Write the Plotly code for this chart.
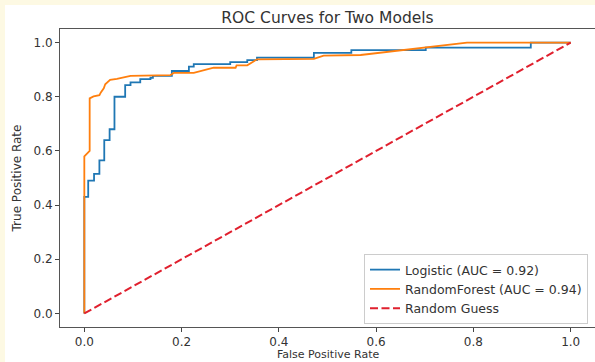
import plotly.graph_objects as go

# ---- data ----
logistic_fpr = [0.0, 0.0, 0.008, 0.020, 0.031, 0.041, 0.052, 0.062, 0.084, 0.095, 0.115,
                0.136, 0.141, 0.180, 0.215, 0.225, 0.300, 0.335, 0.355, 0.472, 0.549,
                0.702, 0.918, 1.0]
logistic_tpr = [0.0, 0.43, 0.49, 0.515, 0.565, 0.64, 0.68, 0.80, 0.843, 0.853, 0.865,
                0.870, 0.877, 0.895, 0.911, 0.920, 0.928, 0.935, 0.944, 0.962, 0.972,
                0.981, 1.0, 1.0]

rf_fpr = [0.0, 0.0, 0.011, 0.011, 0.019, 0.031, 0.034, 0.040, 0.043, 0.053, 0.067, 0.095,
          0.177, 0.184, 0.225, 0.266, 0.311, 0.313, 0.335, 0.355, 0.472, 0.492, 0.568,
          0.787, 1.0]
rf_tpr = [0.0, 0.58, 0.60, 0.794, 0.801, 0.806, 0.816, 0.831, 0.846, 0.862, 0.866, 0.877,
          0.880, 0.888, 0.888, 0.907, 0.907, 0.916, 0.916, 0.938, 0.940, 0.952, 0.954,
          1.0, 1.0]

guess_x = [0.0, 1.0]
guess_y = [0.0, 1.0]

names = ["Logistic (AUC = 0.92)", "RandomForest (AUC = 0.94)", "Random Guess"]
tick_vals = [0.0, 0.2, 0.4, 0.6, 0.8, 1.0]
tick_text = ["0.0", "0.2", "0.4", "0.6", "0.8", "1.0"]

# ---- layout geometry ----
W, H = 595, 362
ML, MR, MT, MB = 60, 0, 29, 35
PW, PH = W - ML - MR, H - MT - MB
FONT = "DejaVu Sans"

fig = go.Figure()
fig.add_trace(go.Scatter(x=logistic_fpr, y=logistic_tpr, mode="lines", name=names[0],
                         line=dict(color="#1f77b4", width=1.8, shape="hv")))
fig.add_trace(go.Scatter(x=rf_fpr, y=rf_tpr, mode="lines", name=names[1],
                         line=dict(color="#ff7f0e", width=1.8)))
fig.add_trace(go.Scatter(x=guess_x, y=guess_y, mode="lines", name=names[2],
                         line=dict(color="#e0202e", width=2, dash="8px,3.5px")))

axis_common = dict(
    showline=True, linecolor="#555555", linewidth=1,
    ticks="outside", ticklen=4, tickwidth=1, tickcolor="#444444",
    tickvals=tick_vals, ticktext=tick_text,
    tickfont=dict(family=FONT, size=12, color="#333333"),
    showgrid=False, zeroline=False, automargin=False,
)

fig.update_layout(
    width=W, height=H,
    margin=dict(l=ML, r=MR, t=MT, b=MB, pad=0),
    paper_bgcolor="#fdf9e3", plot_bgcolor="white",
    font=dict(family=FONT, color="#333333"),
    title=dict(text="ROC Curves for Two Models", x=0.5, xref="paper", xanchor="center",
               y=1 - 18 / H, yref="container", yanchor="middle",
               font=dict(family=FONT, size=15.5, color="#333333")),
    xaxis=dict(range=[-0.05, 1.05], mirror=True, **axis_common),
    yaxis=dict(range=[-0.05, 1.05], mirror=False,
               title=dict(text="True Positive Rate", standoff=9,
                          font=dict(family=FONT, size=12, color="#333333")),
               **axis_common),
    legend=dict(x=(588 - ML) / PW, y=3 / PH, xanchor="right", yanchor="bottom",
                bgcolor="rgba(255,255,255,0.85)", bordercolor="#cccccc", borderwidth=1,
                font=dict(family=FONT, size=12.5, color="#333333"), itemwidth=30,
                tracegroupgap=0),
    showlegend=True,
    annotations=[dict(text="False Positive Rate", xref="paper", yref="paper",
                      x=0.5, y=(MT + PH - H) / PH, xanchor="center", yanchor="bottom",
                      showarrow=False, borderpad=0,
                      font=dict(family=FONT, size=11, color="#333333"))],
    shapes=[dict(type="rect", xref="paper", yref="paper", layer="below",
                 x0=(5 - ML) / PW, x1=(W + 5 - ML) / PW,
                 y0=(H - MB - (H + 5)) / PH, y1=(H - MB - 5) / PH,
                 fillcolor="white", line=dict(width=0))],
)

fig.write_html("out.html", config={"displayModeBar": False},
               post_script="document.body.style.margin='0';")
